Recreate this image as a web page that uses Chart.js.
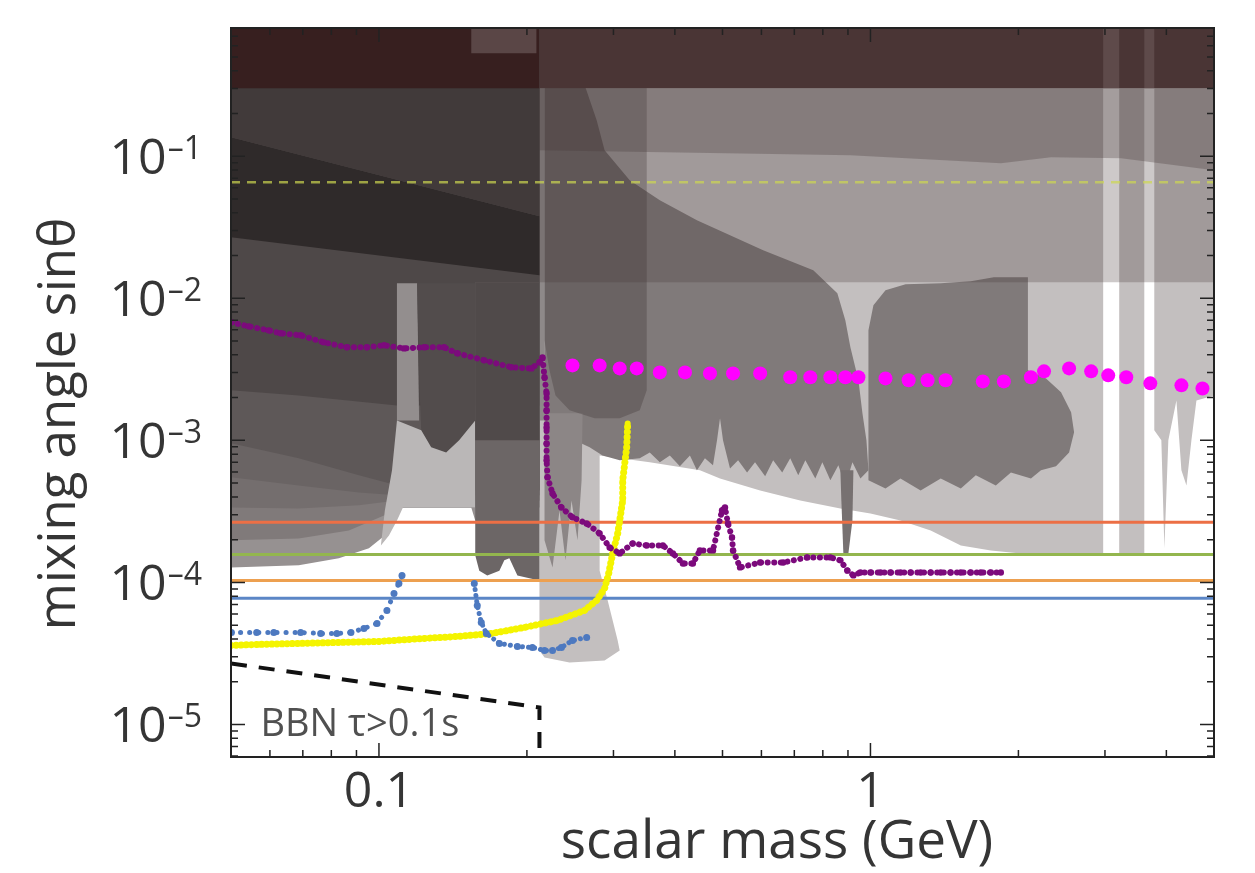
<!DOCTYPE html>
<html>
<head>
<meta charset="utf-8">
<title>scalar mixing limits</title>
<script src="https://cdn.jsdelivr.net/npm/chart.js@4.4.1/dist/chart.umd.min.js"></script>
<style>
  html, body { margin: 0; padding: 0; background: #fff; }
  canvas { display: block; }
</style>
</head>
<body>
<canvas id="limits" width="1255" height="873"></canvas>
<script>
// axes
const massRange = [0.05, 5];
const sinRange = [5.9e-6, 0.8];
const massLabels = [0.1, 1];
const sinLabelExps = [-1, -2, -3, -4, -5];

// excluded regions, [mass GeV, sin theta] outlines
const regionLight = [
  [0.2121, 0.8], [0.2121, 3.32e-5], [0.2172, 2.96e-5], [0.2442, 2.73e-5], [0.2878, 2.82e-5],
  [0.3089, 3.32e-5], [0.3060, 3.90e-5], [0.2920, 7.47e-5], [0.2812, 1.21e-4], [0.2812, 7.84e-4],
  [0.3556, 7.00e-4], [0.4498, 6.15e-4], [0.4942, 5.40e-4], [0.5964, 4.44e-4], [0.7197, 3.78e-4],
  [0.8686, 3.32e-4], [1.0, 3.06e-4], [1.151, 2.73e-4], [1.326, 2.32e-4], [1.527, 1.82e-4],
  [1.758, 1.68e-4], [2.024, 1.60e-4], [2.975, 1.60e-4], [2.975, 0.8], [3.207, 0.8],
  [3.207, 1.60e-4], [3.607, 1.60e-4], [3.607, 0.8], [3.780, 0.8], [3.780, 1.18e-3],
  [3.907, 1.0e-3], [3.963, 1.74e-4], [4.037, 1.0e-3], [4.193, 1.91e-3], [4.292, 6.15e-4],
  [4.395, 4.82e-4], [4.498, 1.0e-3], [4.605, 1.91e-3], [5, 2.07e-3], [5, 0.8]
];
const regionSeam = [[0.2121, 0.8], [0.2172, 0.8], [0.2172, 0.00138], [0.2121, 0.00138]];
const regionMid = [
  [0.2172, 0.8], [0.2362, 0.8], [0.2560, 0.4032], [0.2773, 0.1792], [0.2878, 0.1102],
  [0.3237, 0.0678], [0.3728, 0.0490], [0.4435, 0.0354], [0.6049, 0.0218], [0.7650, 0.01575],
  [0.8563, 0.01084], [0.8889, 0.0070], [0.9103, 0.00452], [0.9452, 0.00265], [0.9631, 0.00155],
  [0.9813, 0.001], [0.9906, 6.15e-4], [0.9541, 5.40e-4], [0.9190, 7.00e-4], [0.8889, 4.82e-4],
  [0.8604, 6.67e-4], [0.8287, 5.23e-4], [0.7982, 7.00e-4], [0.7723, 5.40e-4], [0.7371, 7.23e-4],
  [0.7130, 5.67e-4], [0.6867, 7.47e-4], [0.6614, 5.95e-4], [0.6339, 7.23e-4], [0.6106, 5.58e-4],
  [0.5823, 7.00e-4], [0.5610, 5.95e-4], [0.5379, 7.23e-4], [0.5179, 6.35e-4], [0.5012, 1.0e-3],
  [0.4942, 1.43e-3], [0.4873, 1.0e-3], [0.4782, 6.67e-4], [0.4605, 7.47e-4], [0.4435, 6.15e-4],
  [0.4292, 7.84e-4], [0.4095, 6.56e-4], [0.3907, 7.84e-4], [0.3728, 7.00e-4], [0.3556, 8.23e-4],
  [0.3393, 7.47e-4], [0.3089, 7.23e-4], [0.2851, 7.84e-4], [0.2683, 8.93e-4], [0.2500, 1.0e-3],
  [0.2330, 1.18e-3], [0.2172, 1.38e-3]
];
const regionComb = [
  [0.2172, 1.55e-3], [0.2596, 1.55e-3], [0.2584, 5.23e-4], [0.2535, 1.98e-4], [0.2465, 3.78e-4],
  [0.2396, 1.43e-4], [0.2330, 3.21e-4], [0.2255, 1.275e-4], [0.2172, 1.98e-4]
];
const regionStub = [
  [0.8686, 6.15e-4], [0.9232, 6.15e-4], [0.9190, 2.73e-4], [0.9018, 1.60e-4], [0.8808, 1.60e-4], [0.8726, 3.78e-4]
];
const regionU = [
  [0.2172, 0.8], [0.3506, 0.8], [0.3506, 0.00225], [0.3393, 0.00163], [0.3089, 0.00143],
  [0.2747, 0.00143], [0.2442, 0.00163], [0.2287, 0.00207], [0.2223, 0.00311], [0.2172, 0.00506]
];
const regionRight = [
  [0.9906, 5.23e-4], [0.9906, 0.00595], [1.014, 0.00893], [1.073, 0.01138], [1.179, 0.01255],
  [1.390, 0.01275], [1.600, 0.01318], [1.782, 0.01406], [2.091, 0.01406], [2.091, 0.00311],
  [2.276, 0.00273], [2.442, 0.00218], [2.560, 0.00158], [2.596, 0.00114], [2.536, 8.23e-4],
  [2.385, 6.56e-4], [2.223, 6.15e-4], [2.121, 5.40e-4], [1.931, 5.95e-4], [1.799, 4.82e-4],
  [1.638, 5.67e-4], [1.527, 4.59e-4], [1.390, 5.40e-4], [1.265, 4.44e-4], [1.151, 5.40e-4], [1.073, 4.59e-4]
];
const leftLayer1 = [
  [0.05, 0.8], [0.05, 1.275e-4], [0.06867, 1.32e-4], [0.08287, 1.48e-4], [0.09541, 1.74e-4],
  [0.1058, 2.32e-4], [0.1109, 3.37e-4], [0.1541, 3.37e-4], [0.1570, 2.73e-4], [0.2121, 2.73e-4], [0.2121, 0.8]
];
const leftLayer2 = [
  [0.05, 0.8], [0.05, 1.98e-4], [0.06867, 2.04e-4], [0.08686, 2.32e-4], [0.1024, 2.96e-4],
  [0.1088, 3.37e-4], [0.2121, 3.37e-4], [0.2121, 0.8]
];
const leftLayer3 = [
  [0.05, 0.8], [0.05, 3.37e-4], [0.06867, 3.32e-4], [0.09103, 3.49e-4], [0.1088, 3.78e-4], [0.2121, 3.78e-4], [0.2121, 0.8]
];
const leftLayer4 = [
  [0.05, 0.8], [0.05, 5.49e-4], [0.06867, 4.82e-4], [0.09103, 4.30e-4], [0.1088, 4.10e-4], [0.2121, 4.10e-4], [0.2121, 0.8]
];
const leftLayer5 = [
  [0.05, 0.8], [0.05, 9.53e-4], [0.06867, 7.47e-4], [0.09103, 5.67e-4], [0.1048, 4.98e-4],
  [0.1088, 4.44e-4], [0.2121, 4.44e-4], [0.2121, 0.8]
];
const leftLayer6 = [
  [0.05, 0.8], [0.05, 0.00225], [0.06867, 0.00207], [0.1088, 0.00176], [0.2121, 0.00176], [0.2121, 0.8]
];
const leftStripe = [[0.05, 0.1361], [0.2121, 0.0378], [0.2121, 0.01452], [0.05, 0.0269]];
const leftTop = [[0.05, 0.8], [0.2121, 0.8], [0.2121, 0.0378], [0.05, 0.1361]];
const finger = [[0.1088, 0.01275], [0.1196, 0.01275], [0.1207, 0.00138], [0.1088, 0.00138]];
const fingerCore = [
  [0.1196, 0.01275], [0.1570, 0.01275], [0.1570, 0.00138], [0.1456, 0.001], [0.1370, 8.23e-4],
  [0.1277, 8.93e-4], [0.1219, 0.00118], [0.1207, 0.00265]
];
const fingerBase = [
  [0.1009, 1.82e-4], [0.1028, 3.21e-4], [0.1063, 6.15e-4], [0.1088, 0.00138], [0.1219, 0.00118],
  [0.1277, 8.93e-4], [0.1370, 8.23e-4], [0.1456, 0.001], [0.1570, 0.00138], [0.1570, 3.37e-4],
  [0.1119, 3.37e-4], [0.1088, 2.73e-4], [0.1048, 2.14e-4]
];
const column = [
  [0.1570, 0.0130], [0.2121, 0.0130], [0.2121, 1.03e-4], [0.2024, 1.07e-4], [0.1913, 1.12e-4],
  [0.1842, 1.48e-4], [0.1799, 1.43e-4], [0.1758, 1.21e-4], [0.1661, 1.12e-4], [0.1600, 1.21e-4], [0.1570, 1.55e-4]
];
const columnTop = [[0.1570, 0.0130], [0.2121, 0.0130], [0.2121, 0.001], [0.1570, 0.001]];
const bandLower = [[0.2121, 0.0130], [5, 0.0130], [5, 0.3012], [0.2121, 0.3012]];
const bandUpper = [
  [0.2121, 0.3012], [0.2121, 0.1102], [0.9103, 0.1016], [1.842, 0.0893], [2.330, 0.0984],
  [3.237, 0.0968], [5, 0.0797], [5, 0.3012]
];
const topLeft = [[0.05, 0.3012], [0.2121, 0.3012], [0.2121, 0.8], [0.05, 0.8]];
const topRight = [[0.2121, 0.3012], [5, 0.3012], [5, 0.8], [0.2121, 0.8]];
const topPatch = [[0.1541, 0.531], [0.2091, 0.531], [0.2091, 0.8], [0.1541, 0.8]];
const topGap1 = [[2.975, 0.3012], [3.207, 0.3012], [3.207, 0.8], [2.975, 0.8]];
const topGap2 = [[3.607, 0.3012], [3.780, 0.3012], [3.780, 0.8], [3.607, 0.8]];

// flat projected sensitivities
const levelDashed = 0.0656;
const levelRed = 2.65e-4;
const levelGreen = 1.575e-4;
const levelOrange = 1.03e-4;
const levelBlue = 7.72e-5;
const bbnEdge = [[0.05, 2.69e-5], [0.2121, 1.317e-5], [0.2121, 5.9e-6]];
const bbnLabelAt = [0.0574, 8.36e-6];

// recast / projected curves
const blueLow = [
  [0.0501, 4.44e-5], [0.0564, 4.44e-5], [0.0611, 4.44e-5], [0.0693, 4.44e-5], [0.0761, 4.37e-5],
  [0.0821, 4.37e-5], [0.0877, 4.44e-5], [0.0932, 4.74e-5], [0.0991, 5.14e-5], [0.1038, 6.35e-5],
  [0.1073, 8.37e-5], [0.1098, 9.84e-5], [0.1114, 1.12e-4]
];
const blueHigh = [
  [0.1563, 9.84e-5], [0.1585, 6.89e-5], [0.1615, 5.23e-5], [0.1654, 4.37e-5], [0.1758, 3.72e-5],
  [0.1913, 3.54e-5], [0.2052, 3.48e-5], [0.2172, 3.32e-5], [0.2255, 3.32e-5], [0.2351, 3.48e-5],
  [0.2476, 3.90e-5], [0.2646, 4.10e-5]
];
const yellowDots = [
  [0.05, 3.60e-5], [0.0569, 3.66e-5], [0.0687, 3.72e-5], [0.0829, 3.78e-5], [0.1, 3.84e-5],
  [0.1235, 4.03e-5], [0.1456, 4.17e-5], [0.1693, 4.37e-5], [0.1976, 4.82e-5], [0.2308, 5.40e-5],
  [0.2620, 6.35e-5], [0.2773, 7.47e-5], [0.2878, 9.07e-5], [0.2934, 1.157e-4], [0.2989, 1.60e-4],
  [0.3060, 2.21e-4], [0.3089, 2.73e-4], [0.3133, 3.78e-4], [0.3133, 5.23e-4], [0.3192, 8.93e-4], [0.3207, 1.317e-3]
];
const purpleDots = [
  [0.0501, 6.78e-3], [0.0543, 6.35e-3], [0.0596, 5.95e-3], [0.0631, 5.67e-3], [0.0693, 5.49e-3],
  [0.0772, 4.90e-3], [0.0860, 4.52e-3], [0.0945, 4.52e-3], [0.1024, 4.67e-3], [0.1124, 4.44e-3],
  [0.1235, 4.52e-3], [0.1357, 4.52e-3], [0.1443, 4.10e-3], [0.1638, 3.66e-3], [0.1859, 3.27e-3],
  [0.2042, 3.21e-3], [0.2121, 3.54e-3], [0.2151, 3.84e-3], [0.2172, 2.78e-3], [0.2193, 2.14e-3],
  [0.2193, 1.63e-3], [0.2193, 1.23e-3], [0.2193, 9.53e-4], [0.2193, 7.23e-4], [0.2203, 5.49e-4],
  [0.2255, 4.23e-4], [0.2351, 3.37e-4], [0.2476, 2.87e-4], [0.2646, 2.60e-4], [0.2812, 2.21e-4],
  [0.2947, 1.76e-4], [0.3089, 1.60e-4], [0.3283, 1.88e-4], [0.3506, 1.82e-4], [0.3781, 1.82e-4],
  [0.3963, 1.60e-4], [0.4154, 1.36e-4], [0.4352, 1.36e-4], [0.4498, 1.68e-4], [0.4782, 1.68e-4],
  [0.4988, 3.21e-4], [0.5059, 3.37e-4], [0.5130, 2.60e-4], [0.5228, 2.07e-4], [0.5253, 1.68e-4],
  [0.5429, 1.275e-4], [0.5964, 1.38e-4], [0.6645, 1.38e-4], [0.7437, 1.50e-4], [0.8287, 1.50e-4],
  [0.8686, 1.43e-4], [0.8977, 1.21e-4], [0.9232, 1.12e-4], [0.9541, 1.175e-4], [1.0, 1.175e-4],
  [1.048, 1.175e-4], [1.098, 1.175e-4], [1.151, 1.175e-4], [1.207, 1.175e-4], [1.265, 1.175e-4],
  [1.326, 1.175e-4], [1.390, 1.175e-4], [1.456, 1.175e-4], [1.527, 1.175e-4], [1.600, 1.175e-4],
  [1.677, 1.175e-4], [1.758, 1.175e-4], [1.842, 1.175e-4]
];
const magentaDots = [
  [0.2476, 3.37e-3], [0.2812, 3.37e-3], [0.3089, 3.21e-3], [0.3346, 3.21e-3], [0.3728, 3.01e-3],
  [0.4194, 3.01e-3], [0.4715, 2.96e-3], [0.5253, 2.96e-3], [0.5964, 2.96e-3], [0.6867, 2.78e-3],
  [0.7544, 2.78e-3], [0.8287, 2.78e-3], [0.8889, 2.78e-3], [0.9452, 2.78e-3], [1.073, 2.73e-3],
  [1.196, 2.65e-3], [1.307, 2.65e-3], [1.422, 2.65e-3], [1.693, 2.60e-3], [1.868, 2.60e-3],
  [2.121, 2.78e-3], [2.255, 3.06e-3], [2.536, 3.21e-3], [2.812, 3.06e-3], [3.046, 2.87e-3],
  [3.315, 2.78e-3], [3.710, 2.52e-3], [4.292, 2.44e-3], [4.737, 2.32e-3]
];

const toXY = list => list.map(([x, y]) => ({ x: x, y: y }));

function region(list, color) {
    return {
        data: toXY(list),
        backgroundColor: color,
        borderColor: 'rgba(0,0,0,0)',
        borderWidth: 0,
        pointRadius: 0,
        fill: 'shape'
    };
}

function level(value, color, width, dash) {
    return {
        data: toXY([[massRange[0], value], [massRange[1], value]]),
        borderColor: color,
        borderWidth: width,
        borderDash: dash || [],
        pointRadius: 0,
        fill: false
    };
}

// round-capped zero-length dashes give a row of dots along the curve
function dotted(list, color, width, gap, radius) {
    return {
        data: toXY(list),
        borderColor: color,
        borderWidth: width,
        borderDash: [0.1, gap],
        borderCapStyle: 'round',
        pointRadius: radius,
        pointBackgroundColor: color,
        pointBorderWidth: 0,
        fill: false
    };
}

// painted bottom to top
const layers = [
    region(regionLight, '#c3bfbf'),
    region(regionSeam, '#8e8989'),
    region(regionMid, '#807a7a'),
    region(regionComb, '#8c8686'),
    region(regionStub, '#777171'),
    region(regionRight, '#807a7a'),
    region(regionU, 'rgba(50,40,40,0.28)'),
    region(leftLayer1, '#969191'),
    region(leftLayer2, '#807a7a'),
    region(leftLayer3, '#746e6e'),
    region(leftLayer4, '#6a6464'),
    region(leftLayer5, '#5e5858'),
    region(leftLayer6, '#4e4848'),
    region(leftStripe, '#2f2a2a'),
    region(leftTop, '#413a3a'),
    region(finger, '#938e8e'),
    region(fingerCore, '#524c4c'),
    region(fingerBase, '#bab7b7'),
    region(column, '#6c6666'),
    region(columnTop, '#504a4a'),
    region(bandLower, 'rgba(70,55,55,0.27)'),
    region(bandUpper, 'rgba(70,55,55,0.3)'),
    region(topLeft, '#371f1f'),
    region(topRight, '#4a3535'),
    region(topPatch, '#5a4646'),
    region(topGap1, '#5e4a4a'),
    region(topGap2, '#5e4a4a'),
    level(levelDashed, 'rgba(205,215,80,0.7)', 2.5, [9, 7]),
    level(levelRed, '#ec6f45', 3),
    level(levelGreen, '#93b64e', 3),
    level(levelOrange, '#eda050', 3),
    level(levelBlue, '#5b86c6', 3),
    {
        data: toXY(bbnEdge),
        borderColor: '#111',
        borderWidth: 4,
        borderDash: [16, 12],
        pointRadius: 0,
        fill: false
    },
    dotted(yellowDots, '#f4f400', 7, 5, 3),
    dotted(blueLow, '#4d79c0', 5, 9, 3.5),
    dotted(blueHigh, '#4d79c0', 5, 6, 3.5),
    dotted(purpleDots, '#7c0a7c', 6, 6.5, 3.2),
    {
        data: toXY(magentaDots),
        showLine: false,
        pointRadius: 7,
        pointBackgroundColor: '#ff00ff',
        pointBorderWidth: 0
    }
];

const textColor = '#353535';

const frameAndText = {
    id: 'frameAndText',
    afterDraw(chart) {
        const { ctx, chartArea: a, scales: { x, y } } = chart;
        ctx.save();

        // inward ticks on all four sides
        ctx.strokeStyle = '#222';
        ctx.lineWidth = 1.5;
        ctx.beginPath();
        for (let k = -2; k <= 0; k++) {
            for (let j = 1; j <= 9; j++) {
                const v = j * Math.pow(10, k);
                if (v < massRange[0] * 0.999 || v > massRange[1] * 1.001) continue;
                const px = x.getPixelForValue(v);
                const len = j === 1 ? 14 : 7;
                ctx.moveTo(px, a.bottom); ctx.lineTo(px, a.bottom - len);
                ctx.moveTo(px, a.top); ctx.lineTo(px, a.top + len);
            }
        }
        for (let k = -6; k <= 0; k++) {
            for (let j = 1; j <= 9; j++) {
                const v = j * Math.pow(10, k);
                if (v < sinRange[0] || v > sinRange[1]) continue;
                const py = y.getPixelForValue(v);
                const len = j === 1 ? 14 : 7;
                ctx.moveTo(a.left, py); ctx.lineTo(a.left + len, py);
                ctx.moveTo(a.right, py); ctx.lineTo(a.right - len, py);
            }
        }
        ctx.stroke();

        ctx.lineWidth = 2;
        ctx.strokeRect(a.left, a.top, a.right - a.left, a.bottom - a.top);

        ctx.fillStyle = textColor;
        ctx.textBaseline = 'alphabetic';

        // 10^-n labels
        sinLabelExps.forEach(function (e) {
            const py = y.getPixelForValue(Math.pow(10, e));
            const sup = '\u2013' + Math.abs(e);
            ctx.font = '32px "Open Sans"';
            const sw = ctx.measureText(sup).width;
            ctx.textAlign = 'left';
            ctx.fillText(sup, 202 - sw, py + 3);
            ctx.font = '50px "Open Sans"';
            ctx.textAlign = 'right';
            ctx.fillText('10', 201 - sw, py + 18);
        });

        ctx.font = '50px "Open Sans"';
        ctx.textAlign = 'center';
        massLabels.forEach(function (v) {
            ctx.fillText(String(v), x.getPixelForValue(v), 807);
        });

        ctx.font = '53px "Open Sans"';
        ctx.fillText('scalar mass (GeV)', 777, 858);

        ctx.save();
        ctx.font = '51px "Open Sans"';
        ctx.translate(60, 424);
        ctx.rotate(-Math.PI / 2);
        ctx.textBaseline = 'middle';
        ctx.fillText('mixing angle sin\u03b8', 0, 0);
        ctx.restore();

        ctx.font = '38px "Open Sans"';
        ctx.fillStyle = '#505050';
        ctx.textAlign = 'left';
        ctx.fillText('BBN \u03c4>0.1s', x.getPixelForValue(bbnLabelAt[0]), y.getPixelForValue(bbnLabelAt[1]));

        ctx.restore();
    }
};

const ctx = document.getElementById('limits').getContext('2d');
new Chart(ctx, {
    type: 'line',
    data: { datasets: layers.slice().reverse() },
    options: {
        responsive: false,
        animation: false,
        devicePixelRatio: 1,
        layout: { padding: { left: 231, right: 41, top: 28, bottom: 116 } },
        elements: { line: { tension: 0 } },
        scales: {
            x: { type: 'logarithmic', min: massRange[0], max: massRange[1], bounds: 'data', display: false },
            y: { type: 'logarithmic', min: sinRange[0], max: sinRange[1], bounds: 'data', display: false }
        },
        plugins: {
            legend: { display: false },
            tooltip: { enabled: false }
        }
    },
    plugins: [frameAndText]
});
</script>
</body>
</html>
